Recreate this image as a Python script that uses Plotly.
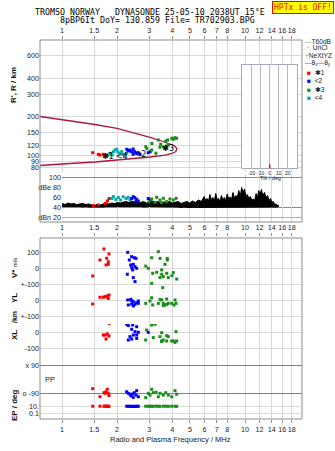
import plotly.graph_objects as go

W, H = 335, 451

# ---------------- data ----------------
FREQ_TICKS = [1, 1.5, 2, 3, 4, 5, 6, 7, 8, 10, 12, 14, 16, 18]
FREQ_LABELS = ['1', '1.5', '2', '3', '4', '5', '6', '7', '8', '10', '12', '14', '16', '18']
R_TICKS = [80, 90, 100, 120, 150, 200, 300, 400, 600, 800]

# virtual range R' (km) of the four echo traces
R1_F = [1.472, 1.579, 1.613, 1.681, 1.718, 1.762]
R1_R = [104.8, 101.8, 100.5, 101.8, 100.5, 100.5]
R4_F = [1.79, 1.83, 1.88, 1.91, 1.95, 1.99, 2.02, 2.07, 2.12, 2.15, 2.21, 2.26, 2.35]
R4_R = [100.5, 103.7, 100.5, 106.7, 110, 111.4, 106, 103.7, 106.7, 102, 100.5, 103.7, 108]
R2_F = [2.26, 2.30, 2.35, 2.40, 2.45, 2.50, 2.56, 2.61, 2.67, 2.45, 2.96, 3.03]
R2_R = [111.4, 108.6, 110, 106.7, 112, 106.7, 103.7, 104.8, 101.8, 101.8, 104.8, 106.7]
R3_F = [2.87, 2.91, 3.09, 3.10, 3.26, 3.36, 3.43, 3.46, 3.58, 3.69, 3.73, 3.78, 3.81, 3.98, 4.06, 4.14, 4.23]
R3_R = [116.7, 113, 110, 123.6, 103.7, 131.7, 115.5, 121.9, 116.7, 129.3, 118.2, 131.7, 120.4, 135.8, 133.3, 137.3, 135.8]
MARK_F = [1.78, 2.12, 2.68, 3.80]
MARK_R = [97.5, 97.5, 101, 113]
MARK_T = ['✱1', '<4', '<2', '✱3']

# profile curve (crimson)
CURVE_F = [0.759, 1.0, 1.514, 2.0, 2.506, 3.03, 3.43, 3.80, 4.09, 4.25, 4.19, 3.99, 3.66, 3.03, 2.0, 1.514, 1.0, 0.759]
CURVE_R = [201, 190.4, 174, 162, 149.4, 137.8, 130.5, 124.8, 119.3, 113, 107.1, 103.3, 100.5, 97, 91.9, 88.6, 85.5, 83.2]

# noise amplitude (dB)
NOISE_F = [1.00, 1.04, 1.08, 1.12, 1.16, 1.20, 1.25, 1.30, 1.35, 1.40, 1.45, 1.50, 1.56, 1.62, 1.68, 1.74,
           1.80, 1.87, 1.94, 2.01, 2.08, 2.16, 2.24, 2.32, 2.41, 2.50, 2.59, 2.69, 2.79, 2.89, 3.00, 3.11,
           3.23, 3.35, 3.47, 3.60, 3.73, 3.87, 4.01, 4.16, 4.31, 4.47, 4.64, 4.81, 4.99, 5.17, 5.36, 5.56,
           5.77, 5.98, 6.09, 6.20, 6.31, 6.43, 6.55, 6.67, 6.80, 6.92, 7.04, 7.17, 7.30, 7.44, 7.57,
           7.71, 7.85, 8.00, 8.14, 8.29, 8.44, 8.60, 8.76, 8.92, 9.08, 9.25, 9.42, 9.59, 9.76, 9.94,
           10.1, 10.3, 10.5, 10.7, 10.9, 11.1, 11.3, 11.5, 11.7, 11.9, 12.1, 12.3, 12.5, 12.8, 13.0,
           13.3, 13.5, 13.8, 14.0, 14.3, 14.5, 14.8, 15.0, 15.3]
NOISE_HI = [48, 46, 49, 47, 48, 46, 47, 48, 46, 47, 45, 44, 46, 45, 47, 48,
            47, 49, 48, 50, 49, 51, 52, 50, 53, 51, 54, 50, 52, 49, 51, 53,
            50, 52, 49, 51, 50, 52, 49, 51, 52, 48, 50, 52, 49, 53, 50, 55,
            52, 62, 54, 58, 52, 66, 55, 60, 53, 68, 56, 58, 52, 64, 55,
            60, 54, 67, 57, 61, 56, 70, 58, 64, 60, 74, 62, 80, 70, 77,
            63, 66, 58, 62, 55, 57, 54, 68, 60, 74, 66, 76, 65, 70, 60,
            64, 54, 58, 50, 52, 46, 47, 44, 45]
NOISE_LO = [42, 42, 43, 42, 42, 42, 42, 41, 42, 41, 41, 40, 40, 41, 41, 42,
            42, 42, 42, 43, 42, 42, 43, 42, 42, 43, 42, 42, 41, 42, 42, 42,
            42, 41, 42, 42, 41, 42, 41, 41, 41, 40, 41, 40, 40, 40, 40, 40,
            40, 40, 40, 40, 40, 40, 40, 40, 40, 40, 40, 40, 40, 40, 40,
            40, 40, 40, 40, 40, 40, 40, 40, 40, 40, 40, 40, 40, 40, 40,
            40, 40, 40, 40, 40, 40, 40, 40, 40, 40, 40, 40, 40, 40, 40,
            40, 40, 40, 40, 40, 40, 41, 41, 42]

# echo amplitudes (dB)
A1_F = [1.48, 1.58, 1.72, 1.77, 1.81]
A1_D = [44, 45, 48, 53, 58]
A4_F = [1.87, 1.91, 1.97, 2.03, 2.09, 2.16, 2.24, 2.30, 2.35]
A4_D = [58, 61.6, 56, 60, 55, 61.6, 58, 60.4, 55]
A2_F = [2.40, 2.45, 2.50, 2.56, 2.61, 2.54, 2.96, 3.03]
A2_D = [58, 61.6, 59.6, 56.4, 53, 53, 58, 55]
A3_F = [2.99, 3.09, 3.29, 3.43, 3.58, 3.73, 3.89, 4.06, 4.20, 3.22, 3.50]
A3_D = [51.6, 57, 60.4, 55, 58.4, 51.6, 57, 55, 58.4, 50.4, 49.6]

# Doppler velocity V* (m/s), YL and XL (km)
V1_F = [1.696, 1.806, 1.613, 1.755, 1.791, 1.740, 1.791, 1.472]
V1_V = [119, 88, 50, 61, 39, 19, 23, -50]
Y1_F = [1.613, 1.718, 1.768, 1.806, 1.791, 1.681, 1.472, 1.755]
Y1_V = [17, 21, 25, 31, 10, 17, -25, 21]
X1_F = [1.472, 1.613, 1.768, 1.791, 1.813, 1.718, 1.768, 1.806, 1.740, 1.681]
X1_V = [75, 75, 79, 60, 54, -19, -12, -25, -44, -19]

V2_F = [2.286, 2.403, 2.484, 2.332, 2.453, 2.506, 2.403, 2.560, 2.275, 2.453, 2.506, 2.434, 2.373, 2.537]
V2_V = [98, 71, 64, 50, 23, 8, 2, -2, -39, -60, -85, -12, 19, 60]
Y2_F = [2.286, 2.403, 2.453, 2.560, 2.303, 2.403, 2.506, 2.612, 2.453, 2.373, 2.612]
Y2_V = [0, -4, -10, -17, -31, -25, -27, -21, -37, 4, -6]
X2_F = [2.257, 2.303, 2.434, 2.560, 2.403, 2.506, 2.453, 2.560, 2.352, 2.303, 2.403, 2.560, 2.612, 2.962]
X2_V = [48, 40, 44, 33, 17, 2, -19, -19, -29, -50, -44, -40, -2, -2]

V3_F = [3.360, 3.091, 3.432, 2.867, 2.962, 3.130, 3.293, 3.654, 3.733, 3.577, 3.809, 3.432, 3.091,
        3.550, 3.761, 3.761, 3.506, 3.506, 4.057, 3.991, 4.235]
V3_V = [102, 64, 60, 12, -2, -33, -27, 23, -33, -54, -60, -60, -96, -123, 60, 50, -12, -39, -29, -48, -69]
Y3_F = [2.867, 3.026, 3.091, 3.130, 3.432, 3.577, 3.733, 3.360, 3.506, 3.733, 3.577, 3.809, 3.976,
        4.145, 4.198, 4.093, 3.654]
Y3_V = [-21, -6, 14, -31, 4, -21, -27, -21, 0, 6, -35, -21, -21, 0, -21, -31, -31]
X3_F = [2.903, 3.091, 3.223, 2.867, 3.154, 3.432, 3.577, 3.733, 3.506, 3.506, 3.733, 3.809, 3.506,
        3.976, 4.145, 4.235, 4.198, 4.057]
X3_V = [12, 44, 48, -50, -35, -29, -50, -56, -56, -4, -23, -29, -60, -56, -65, -56, 2, -56]

# polarization PP (deg) and EP (deg)
P1_F = [1.472, 1.613, 1.696, 1.740, 1.768, 1.791, 1.806, 1.718]
P1_V = [-62, -114, -88, -82, -66, -92, -107, -92]
E1_V = [14, 14, 14, 14, 14, 14, 12, 14]
P2_F = [2.257, 2.303, 2.382, 2.434, 2.484, 2.537, 2.560, 2.612, 2.453, 2.352]
P2_V = [-82, -92, -109, -96, -88, -103, -75, -114, -118, -98]
E2_V = [14, 13, 12, 13, 12, 13, 14, 13, 12, 14]
P3_F = [2.867, 3.026, 3.091, 3.263, 3.360, 3.432, 3.577, 3.690, 3.809, 3.976, 4.145, 4.235, 2.962, 3.154]
P3_V = [-120, -103, -66, -85, -114, -92, -103, -88, -103, -114, -75, -98, -92, -88]
E3_V = [14, 14, 13, 14, 14, 13, 14, 14, 13, 14, 14, 13, 14, 14]

TILT_X = [0, 0]
TILT_Y = [-0.03, 0.035]

RED, BLUE, GREEN, CYAN = '#ff0000', '#0000ff', '#1a8c1a', '#00a8a8'
CRIMSON = '#b0163e'

# ---------------- helpers ----------------
def X(p):
    return p / W


def Y(p):
    return 1 - p / H


GRID = '#d9d9d9'
FRAME = '#8c8c8c'
TICKFONT = dict(family='Liberation Sans', size=7.2, color='#222222')
LOGF = [-0.1202, 1.3115]


def mk(color):
    return dict(symbol='square', size=3, color=color, line=dict(width=0))


fig = go.Figure()

# R' panel
fig.add_trace(go.Scatter(x=CURVE_F, y=CURVE_R, mode='lines', line=dict(color=CRIMSON, width=1.3),
                         xaxis='x', yaxis='y', hoverinfo='skip'))
for fx, ry, c in [(R1_F, R1_R, RED), (R4_F, R4_R, CYAN), (R2_F, R2_R, BLUE), (R3_F, R3_R, GREEN)]:
    fig.add_trace(go.Scatter(x=fx, y=ry, mode='markers', marker=mk(c), xaxis='x', yaxis='y'))
fig.add_trace(go.Scatter(x=MARK_F, y=MARK_R, mode='text', text=MARK_T,
                         textfont=dict(family='DejaVu Sans', size=8, color='black'),
                         xaxis='x', yaxis='y'))

# dB panel
fig.add_trace(go.Scatter(x=NOISE_F, y=NOISE_LO, mode='lines', line=dict(color='black', width=1),
                         xaxis='x2', yaxis='y2'))
fig.add_trace(go.Scatter(x=NOISE_F, y=NOISE_HI, mode='lines', line=dict(color='black', width=1),
                         fill='tonexty', fillcolor='black', xaxis='x2', yaxis='y2'))
for fx, dv, c in [(A1_F, A1_D, RED), (A4_F, A4_D, CYAN), (A2_F, A2_D, BLUE), (A3_F, A3_D, GREEN)]:
    fig.add_trace(go.Scatter(x=fx, y=dv, mode='markers', marker=mk(c), xaxis='x2', yaxis='y2'))

# tilt inset
fig.add_trace(go.Scatter(x=TILT_X, y=TILT_Y, mode='lines', line=dict(color=RED, width=1.5),
                         xaxis='x3', yaxis='y3', cliponaxis=False))

# lower panel
groups = [
    ('y4', [(V1_F, V1_V, RED), (V2_F, V2_V, BLUE), (V3_F, V3_V, GREEN)]),
    ('y5', [(Y1_F, Y1_V, RED), (Y2_F, Y2_V, BLUE), (Y3_F, Y3_V, GREEN)]),
    ('y6', [(X1_F, X1_V, RED), (X2_F, X2_V, BLUE), (X3_F, X3_V, GREEN)]),
    ('y7', [(P1_F, P1_V, RED), (P2_F, P2_V, BLUE), (P3_F, P3_V, GREEN)]),
    ('y8', [(P1_F, E1_V, RED), (P2_F, E2_V, BLUE), (P3_F, E3_V, GREEN)]),
]
for ya, lst in groups:
    for fx, vv, c in lst:
        fig.add_trace(go.Scatter(x=fx, y=vv, mode='markers', marker=mk(c), xaxis='x4', yaxis=ya))
# carrier for the upper frequency scale of the lower panel
fig.add_trace(go.Scatter(x=[1, 18], y=[0.5, 0.5], mode='lines', line=dict(width=0, color='white'),
                         xaxis='x5', yaxis='y9', hoverinfo='skip'))

# ---------------- axes ----------------
xcommon = dict(type='log', range=LOGF, tickvals=FREQ_TICKS, ticktext=FREQ_LABELS, tickfont=TICKFONT,
               tickangle=0, zeroline=False, showline=False)

layout = dict(
    width=W, height=H, margin=dict(l=0, r=0, t=0, b=0), showlegend=False,
    paper_bgcolor='white', plot_bgcolor='white',
    xaxis=dict(domain=[X(40), X(302)], anchor='y', side='top', ticks='outside', ticklen=3,
               tickcolor=FRAME, showgrid=True, gridcolor=GRID, **xcommon),
    yaxis=dict(domain=[Y(172), Y(40)], anchor='x', type='log', range=[1.8695, 2.9008],
               tickvals=R_TICKS, ticktext=[str(v) for v in R_TICKS], tickfont=TICKFONT,
               showgrid=True, gridcolor=GRID, zeroline=False, ticks=''),
    xaxis2=dict(domain=[X(62), X(302)], anchor='y2', type='log', range=[0, 1.3115],
                tickvals=FREQ_TICKS, showticklabels=False, ticks='', showgrid=True, gridcolor=GRID,
                zeroline=False),
    yaxis2=dict(domain=[Y(222), Y(174)], anchor='x2', range=[11, 107], tickvals=[100, 80, 60, 40, 20],
                ticktext=['100', 'dBe 80', '60', '40', 'dBn 20'], tickfont=TICKFONT, showgrid=False,
                zeroline=False, ticks=''),
    xaxis3=dict(domain=[X(242), X(297)], anchor='y3', range=[-30.8, 30.3],
                tickvals=[-20, -10, 0, 10, 20], ticktext=['-20', '-10', '0', '10', '20'], tickangle=0,
                tickfont=dict(family='Liberation Sans', size=5, color='#222'), ticks='',
                ticklabelstandoff=0,
                showgrid=True, gridcolor='#b4b4cc', showline=True, mirror=True, linecolor='#a8a8bc',
                zeroline=False),
    yaxis3=dict(domain=[Y(168), Y(65)], anchor='x3', range=[0, 1], showticklabels=False, ticks='',
                showgrid=False, zeroline=False, showline=True, mirror=True, linecolor='#a8a8bc'),
    xaxis4=dict(domain=[X(40), X(302)], anchor='y8', side='bottom', ticks='outside', ticklen=3,
                tickcolor=FRAME, showgrid=True, gridcolor=GRID, **xcommon),
    xaxis5=dict(domain=[X(40), X(302)], anchor='y9', side='top', ticks='outside',
                ticklen=3, tickcolor=FRAME, showgrid=False, **xcommon),
    yaxis9=dict(domain=[Y(238), Y(237)], anchor='x5', range=[0, 1], showticklabels=False, ticks='',
                showgrid=False, zeroline=False, showline=False),
    yaxis4=dict(domain=[Y(292), Y(238)], anchor='x4', range=[-150, 187.5], tickvals=[100, 0, -100],
                ticktext=['100', '0', '+-100'], tickfont=TICKFONT, showgrid=True, gridcolor=GRID,
                zeroline=False, ticks=''),
    yaxis5=dict(domain=[Y(324), Y(292)], anchor='x4', range=[-150, 50], tickvals=[0, -100],
                ticktext=['0', '+-100'], tickfont=TICKFONT, showgrid=True, gridcolor=GRID,
                zeroline=False, ticks=''),
    yaxis6=dict(domain=[Y(356), Y(324)], anchor='x4', range=[-150, 50], tickvals=[0, -100],
                ticktext=['0', '-100'], tickfont=TICKFONT, showgrid=True, gridcolor=GRID,
                zeroline=False, ticks=''),
    yaxis7=dict(domain=[Y(401), Y(356)], anchor='x4', range=[-141.4, 147.9], tickvals=[90, -90],
                ticktext=['x 90', 'o -90'], tickfont=TICKFONT, showgrid=True, gridcolor='#808080',
                zeroline=False, ticks=''),
    yaxis8=dict(domain=[Y(419), Y(401)], anchor='x4', type='log', range=[-2.73, 2.73],
                tickvals=[10, 0.1], ticktext=['10.', '0.1'], tickfont=TICKFONT, showgrid=True,
                gridcolor='#dcdcdc', zeroline=False, ticks=''),
)

shapes = [
    dict(type='rect', xref='paper', yref='paper', x0=X(40), x1=X(302), y0=Y(222), y1=Y(40),
         line=dict(color=FRAME, width=1)),
    dict(type='rect', xref='paper', yref='paper', x0=X(40), x1=X(302), y0=Y(419), y1=Y(238),
         line=dict(color=FRAME, width=1)),
    dict(type='line', xref='x2 domain', yref='y2', x0=0, x1=1, y0=100, y1=100,
         line=dict(color='#8a8a8a', width=1)),
    dict(type='line', xref='x2 domain', yref='y2', x0=0, x1=1, y0=40, y1=40,
         line=dict(color='#8a8a8a', width=1), layer='below'),
    dict(type='line', xref='x2 domain', yref='y2', x0=0, x1=1, y0=20, y1=20,
         line=dict(color='#aaaadd', width=1)),
]
layout['shapes'] = shapes

LF = dict(family='Liberation Sans', size=7.5, color='#222222')
LG = dict(family='Liberation Sans', size=6.6, color='#222222')
BF = dict(family='Liberation Sans', size=8, color='#111111')
MONO = dict(family='DejaVu Sans Mono', size=8.3, color='black')


def ann(x, y, text, font, xanchor='center', angle=0, **kw):
    d = dict(x=X(x), y=Y(y), xref='paper', yref='paper', text=text, showarrow=False, font=font,
             xanchor=xanchor, yanchor='middle', textangle=angle)
    d.update(kw)
    return d


annotations = [
    ann(150, 12, 'TROMSO NORWAY   DYNASONDE 25-05-10 2038UT 15°E', MONO),
    ann(157, 20, '8pBP6It DoY= 130.859 File= TR702903.BPG', MONO),
    ann(303, 7.2, 'HPTx is OFF!', dict(family='DejaVu Sans Mono', size=8, color='red'),
        bgcolor='#ffff00', bordercolor='red', borderwidth=1, borderpad=1),
    ann(13, 85, "<b>R', R / km</b>", BF, angle=-90),
    ann(14, 268, '<b>V*</b> <span style="font-size:6px">m/s</span>', BF, angle=-90),
    ann(14, 298, '<b>YL</b>', BF, angle=-90),
    ann(14, 317, '<b>/km</b>', dict(family='Liberation Sans', size=7, color='#111'), angle=-90),
    ann(14, 335, '<b>XL</b>', BF, angle=-90),
    ann(14, 405, '<b>EP / deg</b>', BF, angle=-90),
    ann(43, 379, 'PP', LF, xanchor='left'),
    ann(170, 439, 'Radio and Plasma Frequency / MHz', LF),
    ann(270, 178.5, 'Tilt / deg', dict(family='Liberation Sans', size=5.5, color='#222')),
    # legend
    ann(303, 41.7, '<span style="color:#999">—</span>T60dB', LG, xanchor='left'),
    ann(305, 47.5, '·  UnCl', LG, xanchor='left'),
    ann(303, 55.5, '<span style="color:#e07a9a">+</span>NeXtYZ', LG, xanchor='left'),
    ann(302.5, 63.3, '<span style="color:#e04040">—</span>θ<sub>x</sub><span style="color:#6060e0">—</span>θ<sub>y</sub>',
        LG, xanchor='left'),
    ann(305, 72.3, '<span style="color:#ff0000">■</span>  ✱1', LG, xanchor='left'),
    ann(305, 80.7, '<span style="color:#0000ff">■</span>  <2', LG, xanchor='left'),
    ann(305, 89.2, '<span style="color:#1a8c1a">■</span>  ✱3', LG, xanchor='left'),
    ann(305, 97.5, '<span style="color:#00a8a8">■</span>  <4', LG, xanchor='left'),
]
layout['annotations'] = annotations

fig.update_layout(**layout)
fig.write_html('out.html')
